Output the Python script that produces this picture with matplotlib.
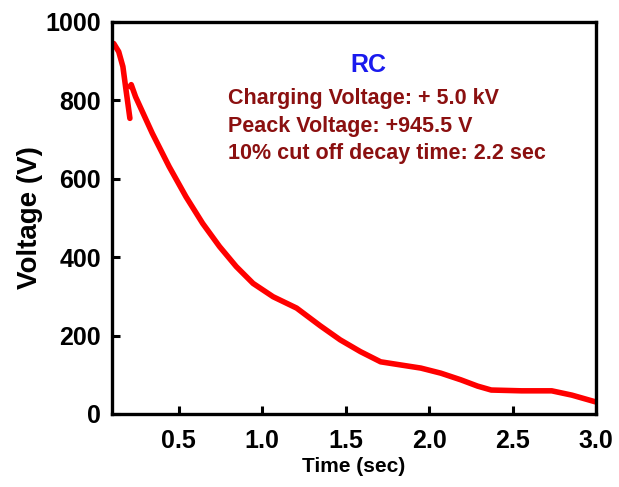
import matplotlib
matplotlib.use("Agg")
import matplotlib.pyplot as plt

plt.rcParams['font.family'] = ['Liberation Sans', 'DejaVu Sans']
plt.rcParams['font.weight'] = 'bold'

# first segment (initial peak, quick drop)
t_seg1 = [0.110, 0.140, 0.165, 0.181, 0.207]
v_seg1 = [945, 924, 886, 835, 754]
# main decay
t_main = [0.207, 0.215, 0.241, 0.341, 0.442, 0.543, 0.643, 0.744, 0.844, 0.945,
          1.065, 1.206, 1.347, 1.467, 1.588, 1.709, 1.829, 1.950, 2.070, 2.190,
          2.290, 2.372, 2.553, 2.734, 2.855, 2.995]
v_main = [835, 840, 809, 716, 631, 554, 486, 427, 376, 333,
          299, 270, 225, 189, 159, 133, 125, 117, 104, 87,
          71, 61, 59, 59, 48, 31]

xticks = [0.5, 1.0, 1.5, 2.0, 2.5, 3.0]
yticks = [0, 200, 400, 600, 800, 1000]

fig = plt.figure(figsize=(6.19, 4.87), dpi=100)
ax = fig.add_axes([0.181, 0.150, 0.782, 0.805])

red = '#ff0000'
ax.plot(t_seg1, v_seg1, color=red, lw=4.0, solid_capstyle='round', solid_joinstyle='round')
ax.plot(t_main, v_main, color=red, lw=4.0, solid_capstyle='round', solid_joinstyle='round')

ax.set_xlim(0.1, 3.0)
ax.set_ylim(0, 1000)
ax.set_xticks(xticks)
ax.set_xticklabels([f"{v:.1f}" for v in xticks])
ax.set_yticks(yticks)
ax.set_yticklabels([str(v) for v in yticks])

for s in ax.spines.values():
    s.set_linewidth(2.4)
ax.tick_params(direction='in', length=6, width=2.2, labelsize=18)
ax.tick_params(axis='x', pad=11)
ax.tick_params(axis='y', pad=8)
for lab in ax.get_xticklabels() + ax.get_yticklabels():
    lab.set_fontweight('bold')

ax.set_xlabel('Time (sec)', fontsize=15, fontweight='bold', labelpad=3)
ax.set_ylabel('Voltage (V)', fontsize=20, fontweight='bold', labelpad=2)

ax.text(0.529, 0.873, 'RC', transform=ax.transAxes, color='#1a1aee',
        fontsize=18, fontweight='bold', ha='center', va='baseline')
lines = ['Charging Voltage: + 5.0 kV', 'Peack Voltage: +945.5 V',
         '10% cut off decay time: 2.2 sec']
for i, s in enumerate(lines):
    ax.text(0.24, 0.790 - i * 0.070, s, transform=ax.transAxes, color='#8b1010',
            fontsize=15.5, fontweight='bold', ha='left', va='baseline')

fig.savefig('out.png', dpi=100)
